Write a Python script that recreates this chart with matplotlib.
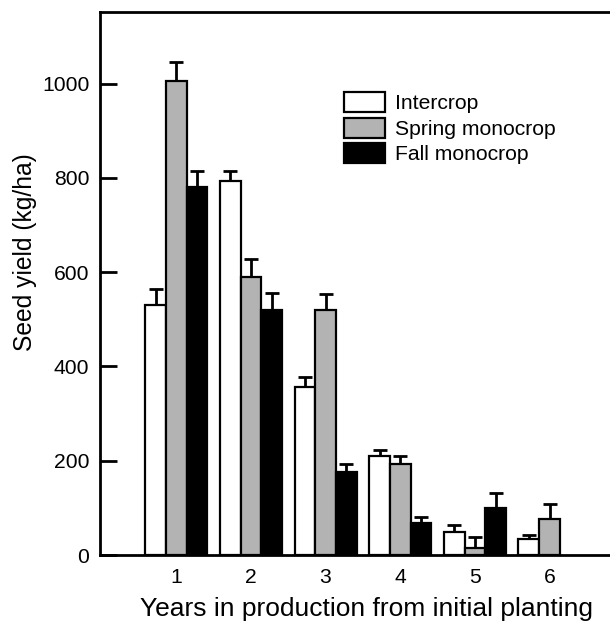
import numpy as np
import matplotlib
matplotlib.use('Agg')
import matplotlib.pyplot as plt

# values (kg/ha)
years = [1, 2, 3, 4, 5, 6]
intercrop = [530, 794, 357, 209, 48, 33]
intercrop_err = [34, 20, 20, 13, 16, 9]
spring = [1005, 590, 520, 193, 15, 76]
spring_err = [41, 38, 33, 17, 23, 32]
fall = [781, 519, 177, 68, 100, np.nan]
fall_err = [34, 36, 16, 13, 31, np.nan]

series_names = ['Intercrop', 'Spring monocrop', 'Fall monocrop']

plt.rcParams['font.family'] = ['Liberation Sans', 'DejaVu Sans']

fig = plt.figure(figsize=(6.10, 6.22), dpi=100)
ax = fig.add_axes([0.164, 0.1077, 0.836, 0.873])

w = 0.277
x = np.array(years, dtype=float)
sets = [(intercrop, intercrop_err, 'white'),
        (spring, spring_err, '#b3b3b3'),
        (fall, fall_err, 'black')]

for i, (vals, errs, col) in enumerate(sets):
    xs = x + (i - 1) * w
    vals = np.array(vals, dtype=float)
    errs = np.array(errs, dtype=float)
    ax.bar(xs, vals, width=w, color=col, edgecolor='black', linewidth=1.6,
           label=series_names[i], zorder=3)
    ax.errorbar(xs, vals, yerr=[np.zeros_like(errs), errs], fmt='none',
                ecolor='black', elinewidth=2, capsize=4.8, capthick=2, zorder=2)

ax.set_xlim(-0.02, 6.81)
ax.set_ylim(0, 1152)
ax.set_yticks([0, 200, 400, 600, 800, 1000])
ax.set_xticks(years)
ax.tick_params(axis='y', direction='in', length=12, width=2, labelsize=15.2, pad=7.7)
ax.tick_params(axis='x', length=0, labelsize=15.2, pad=9.3)

for side in ['left', 'bottom', 'top']:
    ax.spines[side].set_linewidth(2)
ax.spines['right'].set_visible(False)

ax.set_xlabel('Years in production from initial planting', fontsize=19)
ax.xaxis.set_label_coords(0.5225, -0.077)
ax.set_ylabel('Seed yield (kg/ha)', fontsize=17.7)
ax.yaxis.set_label_coords(-0.124, 0.558)

ax.legend(loc='upper left', bbox_to_anchor=(344 / 610, 1 - 92 / 622),
          bbox_transform=fig.transFigure, frameon=False, fontsize=15.2,
          borderpad=0, borderaxespad=0, handlelength=1.95, handleheight=1.1,
          handletextpad=0.47, labelspacing=0.2)

plt.savefig('out.png', dpi=100, facecolor='white')
plt.close()
